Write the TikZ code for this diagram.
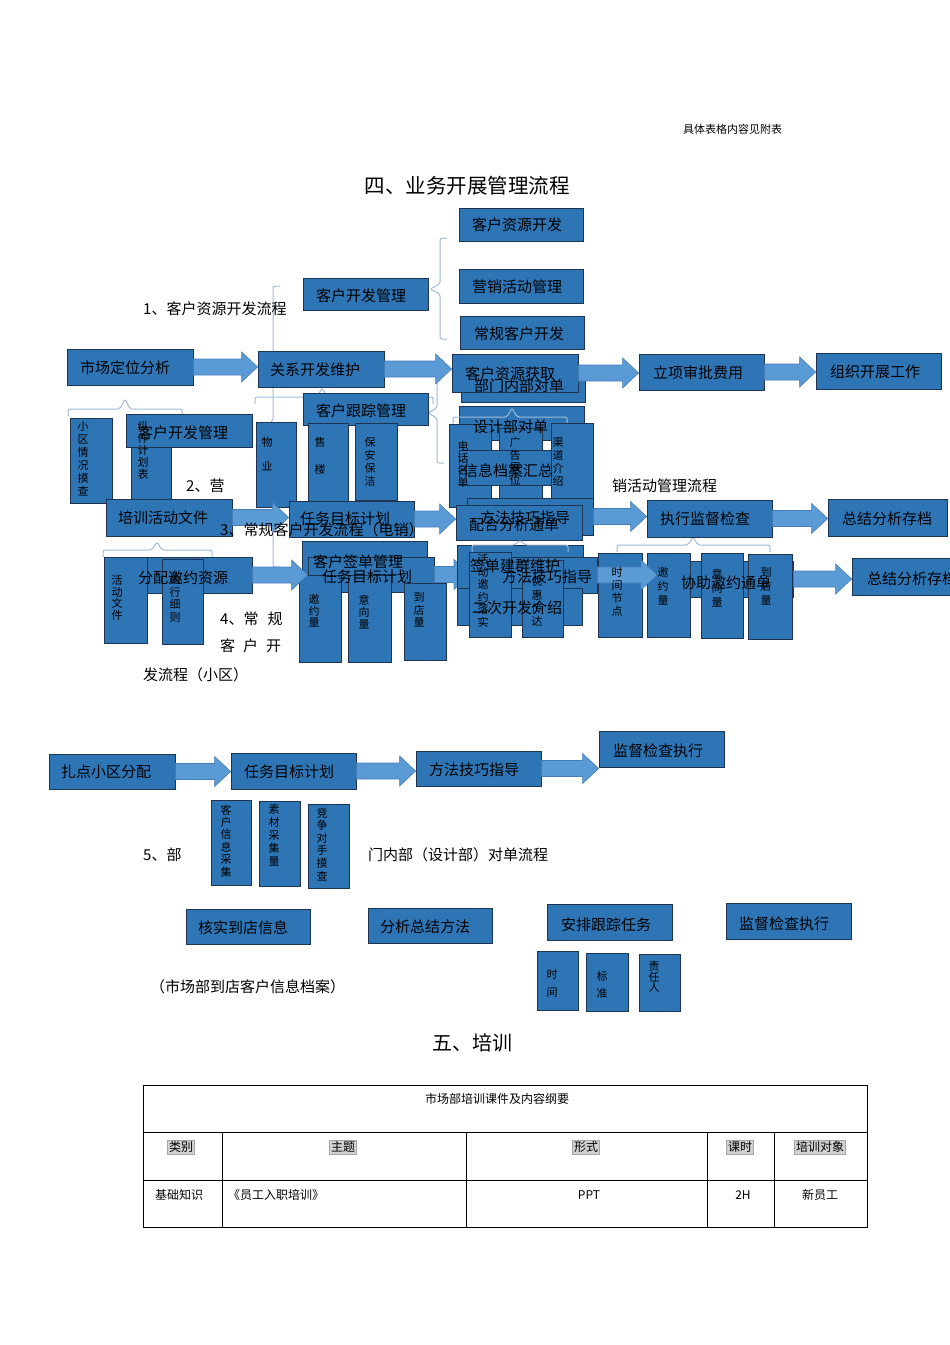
\documentclass[tikz,border=0pt]{standalone}
\usepackage{fontspec}
\setmainfont{Noto Sans CJK SC}
\usetikzlibrary{calc}

\definecolor{boxblue}{RGB}{46,117,182}
\definecolor{boxedge}{RGB}{31,52,82}
\definecolor{arrblue}{RGB}{91,155,213}
\definecolor{arredge}{RGB}{70,125,185}
\definecolor{brkline}{RGB}{160,186,216}

\tikzset{
  blk/.style={draw=boxedge, fill=boxblue, line width=0.8pt, inner sep=0pt},
  lbl/.style={inner sep=0pt, anchor=west, font=\fontsize{15}{18}\selectfont},
  sect/.style={inner sep=0pt, anchor=west, font=\fontsize{15}{18}\selectfont},
  barrow/.style={fill=arrblue, draw=arredge, line width=0.6pt},
  brk/.style={draw=brkline, line width=1pt, rounded corners=2pt},
  tcell/.style={inner sep=0pt, font=\fontsize{12}{14}\selectfont},
  thead/.style={inner sep=1.5pt, fill=black!18, draw=black!35, line width=0.4pt, font=\fontsize{12}{14}\selectfont},
}

% box by corners
\newcommand{\blk}[5]{
\node[blk, minimum width=#4-#2, minimum height=#5-#3] (#1) at ({(#2+#4)/2},{(#3+#5)/2}) {};
}
% text in a box
\newcommand{\txt}[4]{
\node[lbl] (#1) at (#2,#3) {#4};
}
% upright text: name, x, top, line distance, text
\newcommand{\vtxt}[5]{
\node[inner sep=0pt, anchor=north, align=center, font=\fontsize{11}{#4}\selectfont] (#1) at (#2,#3) {#5};
}
% block arrow
\newcommand{\barr}[2]{
\path[barrow] let \p1=(#1), \p2=(#2) in
  (\x1,\y1+8pt) -- (\x2-16pt,\y1+8pt) -- (\x2-16pt,\y1+15pt) -- (\x2,\y1)
  -- (\x2-16pt,\y1-15pt) -- (\x2-16pt,\y1-8pt) -- (\x1,\y1-8pt) -- cycle;
}
% brace under a box: x1, x2, y, tip x, tip y
\newcommand{\hbrk}[5]{
\draw[brk] ({#1},{#3+7}) |- ({#4-5},{#3}) -- ({#4},{#5}) -- ({#4+5},{#3}) -| ({#2},{#3+7});
}
% brace beside a box: y1, y2, x, tip x, tip y
\newcommand{\vbrk}[5]{
\draw[brk] ({#3+7},{#1}) -| ({#3},{#5-5}) -- ({#4},{#5}) -- ({#3},{#5+5}) |- ({#3+7},{#2});
}

\begin{document}
\begin{tikzpicture}[x=1pt, y=-1pt]
\useasboundingbox (0,0) rectangle (950,1345);

\node[inner sep=0pt, anchor=west, font=\fontsize{11}{13}\selectfont] (note) at (683,129) {具体表格内容见附表};
\node[inner sep=0pt, font=\fontsize{20.5}{24}\selectfont] (title4) at (467,186) {四、业务开展管理流程};

\vbrk{238}{339}{440}{430}{289}
\vbrk{286}{567}{273}{265}{426}
\hbrk{255}{433}{397}{322}{388}
\vbrk{360}{463}{437}{428}{413}
\hbrk{68}{182}{409}{125}{399}
\hbrk{617}{770}{545}{693}{537}
\hbrk{103}{212}{550}{157}{542}

\blk{crd}{459}{208}{583}{241}
\blk{yxh}{459}{269}{583}{303}
\blk{cgk}{460}{316}{584}{349}
\blk{kfg}{303}{278}{428}{310}
\blk{mkt}{67}{349}{193}{385}
\blk{rel}{258}{351}{384}{387}
\blk{bmn}{461}{372}{585}{402}
\blk{khz}{452}{354}{578}{392}
\blk{lxs}{639}{354}{764}{390}
\blk{zzk}{816}{353}{941}{389}

\barr{mkt.east}{rel.west}
\barr{rel.east}{khz.west}
\barr{khz.east}{lxs.west}
\barr{lxs.east}{zzk.west}

\blk{sjb}{459}{406}{584}{440}
\hbrk{453}{567}{417}{512}{408}
\blk{khg}{303}{393}{428}{425}
\blk{xqk}{70}{418}{112}{503}
\blk{gzj}{131}{418}{171}{503}
\blk{kfg2}{126}{414}{252}{447}
\blk{wy}{256}{422}{296}{507}
\blk{sl}{308}{423}{348}{509}
\blk{bab}{355}{423}{397}{500}
\blk{dhm}{449}{424}{491}{507}
\blk{ggz}{499}{428}{542}{500}
\blk{xxd}{459}{450}{551}{485}
\blk{qdj}{551}{423}{593}{508}

\blk{pxh}{106}{499}{232}{536}
\blk{rwm}{289}{501}{414}{537}
\blk{ffj}{467}{498}{593}{535}
\blk{phf}{456}{505}{582}{540}
\blk{zxj}{647}{500}{772}{537}
\blk{zjf}{828}{499}{947}{536}
\barr{pxh.east}{rwm.west}
\barr{rwm.east}{phf.west}
\barr{ffj.east}{zxj.west}
\barr{zxj.east}{zjf.west}

\blk{hdw}{104}{557}{147}{643}
\blk{fpy}{147}{557}{252}{593}
\blk{zxx}{162}{559}{203}{644}
\blk{sgn}{302}{541}{427}{592}
\blk{rwm2}{308}{557}{434}{592}
\blk{yyl}{299}{575}{341}{662}
\blk{yxl}{348}{575}{391}{662}
\blk{ddl}{404}{583}{446}{660}
\barr{fpy.east}{rwm2.west}
\coordinate (qdin) at (470,575);
\barr{rwm2.east}{qdin}

\blk{qdj2}{457}{545}{583}{588}
\blk{ffj2}{472}{557}{597}{593}
\blk{ecf}{457}{588}{582}{625}
\blk{yhc}{522}{560}{563}{637}
\blk{hdl}{469}{552}{511}{637}
\hbrk{472}{568}{545}{520}{540}

\blk{xzy}{655}{561}{793}{597}
\blk{sjj}{598}{553}{642}{637}
\blk{yyl2}{647}{553}{690}{637}
\blk{yxl2}{701}{553}{743}{638}
\blk{ddl2}{748}{554}{792}{639}
\blk{zjf2}{852}{558}{955}{595}
\coordinate (yyin) at (657,575);
\barr{ffj2.east}{yyin}
\barr{xzy.east}{zjf2.west}

\txt{t-crd}{472}{225}{客户资源开发}
\txt{t-yxh}{472}{287}{营销活动管理}
\txt{t-cgk}{474}{334}{常规客户开发}
\txt{t-kfg}{316}{296}{客户开发管理}
\txt{t-mkt}{80}{368}{市场定位分析}
\txt{t-rel}{270}{370}{关系开发维护}
\txt{t-khz}{465}{374}{客户资源获取}
\txt{t-bmn}{474}{386}{部门内部对单}
\txt{t-lxs}{653}{373}{立项审批费用}
\txt{t-zzk}{830}{372}{组织开展工作}
\txt{t-khg}{316}{411}{客户跟踪管理}
\txt{t-sjb}{473}{427}{设计部对单}
\txt{t-kfg2}{138}{433}{客户开发管理}
\txt{t-xxd}{463}{471}{信息档案汇总}
\txt{t-pxh}{118}{518}{培训活动文件}
\txt{t-rwm}{300}{519}{任务目标计划}
\txt{t-ffj}{480}{518}{方法技巧指导}
\txt{t-phf}{469}{525}{配合分析通单}
\txt{t-zxj}{660}{519}{执行监督检查}
\txt{t-zjf}{842}{519}{总结分析存档}
\txt{t-fpy}{138}{578}{分配邀约资源}
\txt{t-sgn}{313}{562}{客户签单管理}
\txt{t-rwm2}{322}{577}{任务目标计划}
\txt{t-qdj2}{470}{566}{签单建群维护}
\txt{t-ffj2}{502}{577}{方法技巧指导}
\txt{t-ecf}{472}{608}{二次开发介绍}
\txt{t-xzy}{681}{583}{协助邀约通单}
\txt{t-zjf2}{867}{579}{总结分析存档}

\vtxt{v-xqk}{83}{421.5}{13}{小\\区\\情\\况\\摸\\查}
\vtxt{v-gzj}{143}{421.5}{12}{纵\\作\\计\\划\\表}
\vtxt{v-wy}{267}{437.5}{24}{物\\业}
\vtxt{v-sl}{320}{437.5}{27}{售\\楼}
\vtxt{v-bab}{370}{437.5}{13}{保\\安\\保\\洁}
\vtxt{v-dhm}{463}{441.5}{12}{电\\话\\名\\单}
\vtxt{v-ggz}{515}{437.5}{12.5}{广\\告\\展\\位}
\vtxt{v-qdj}{558}{437.5}{13}{渠\\道\\介\\绍}
\vtxt{v-hdw}{117}{575.5}{11.5}{活\\动\\文\\件}
\vtxt{v-zxx}{175}{574.5}{12.5}{执\\行\\细\\则}
\vtxt{v-yyl}{314}{594.5}{11.5}{邀\\约\\量}
\vtxt{v-yxl}{364}{594.5}{12}{意\\向\\量}
\vtxt{v-ddl}{419}{592.5}{12.5}{到\\店\\量}
\vtxt{v-hdl}{483}{554.5}{12.5}{活\\动\\邀\\约\\落\\实}
\vtxt{v-yhc}{537}{576.5}{13.3}{优\\惠\\传\\达}
\vtxt{v-sjj}{617}{567.5}{13}{时\\间\\节\\点}
\vtxt{v-yyl2}{663}{567.5}{14}{邀\\约\\量}
\vtxt{v-yxl2}{717}{568.5}{14}{意\\向\\量}
\vtxt{v-ddl2}{766}{567.5}{14}{到\\店\\量}

\node[sect] (s1) at (143,309) {1、客户资源开发流程};
\node[sect] (s2a) at (186,486) {2、营};
\node[sect] (s2b) at (612,486) {销活动管理流程};
\node[sect] (s3) at (220,530) {3、常规客户开发流程（电销）};
\node[sect] (s4a) at (220,619) {4、常\hspace{9pt}规};
\node[sect] (s4b) at (220,646) {客\hspace{8pt}户\hspace{8pt}开};
\node[sect] (s4c) at (143,675) {发流程（小区）};

\blk{zdx}{49}{754}{175}{789}
\blk{rwm3}{231}{753}{356}{789}
\blk{ffj3}{416}{751}{541}{786}
\blk{jdz}{599}{731}{724}{767}
\barr{zdx.east}{rwm3.west}
\barr{rwm3.east}{ffj3.west}
\barr{ffj3.east}{jdz.west}
\blk{khx}{211}{800}{251}{885}
\blk{scc}{259}{801}{300}{886}
\blk{jzd}{308}{804}{349}{888}
\blk{hsd}{186}{909}{310}{944}
\blk{fxz}{368}{908}{492}{943}
\blk{apg}{547}{904}{672}{940}
\blk{jdz2}{726}{903}{851}{939}
\blk{sj}{537}{951}{578}{1010}
\blk{bz}{586}{953}{628}{1011}
\blk{zrr}{639}{954}{680}{1011}

\txt{t-zdx}{61}{772}{扎点小区分配}
\txt{t-rwm3}{244}{772}{任务目标计划}
\txt{t-ffj3}{429}{770}{方法技巧指导}
\txt{t-jdz}{613}{751}{监督检查执行}
\txt{t-hsd}{198}{928}{核实到店信息}
\txt{t-fxz}{380}{927}{分析总结方法}
\txt{t-apg}{561}{925}{安排跟踪任务}
\txt{t-jdz2}{739}{924}{监督检查执行}
\vtxt{v-khx}{226}{804.5}{12.4}{客\\户\\信\\息\\采\\集}
\vtxt{v-scc}{274}{804.5}{13}{素\\材\\采\\集\\量}
\vtxt{v-jzd}{322}{807.5}{12.6}{竞\\争\\对\\手\\摸\\查}
\vtxt{v-sj}{552}{969.5}{18}{时\\间}
\vtxt{v-bz}{602}{971.5}{17}{标\\准}
\vtxt{v-zrr}{654}{961.5}{10.5}{责\\任\\人}

\node[sect] (s5a) at (143,855) {5、部};
\node[sect] (s5b) at (368,855) {门内部（设计部）对单流程};
\node[sect] (s5c) at (150,987) {（市场部到店客户信息档案）};

\node[inner sep=0pt, font=\fontsize{20}{24}\selectfont] (title5) at (472,1043) {五、培训};

\draw[line width=0.8pt] (143,1085) rectangle (867,1227);
\draw[line width=0.8pt] (143,1132) -- (867,1132);
\draw[line width=0.8pt] (143,1180) -- (867,1180);
\foreach \cx in {222,466,707,774}
  \draw[line width=0.8pt] (\cx,1132) -- (\cx,1227);
\node[tcell] (cap) at (497,1099) {市场部培训课件及内容纲要};
\node[thead] (h1) at (181,1147) {类别};
\node[thead] (h2) at (343,1147) {主题};
\node[thead] (h3) at (586,1147) {形式};
\node[thead] (h4) at (740,1147) {课时};
\node[thead] (h5) at (820,1147) {培训对象};
\node[tcell] (c1) at (179,1195) {基础知识};
\node[tcell, anchor=west] (c2) at (228,1195) {《员工入职培训》};
\node[tcell] (c3) at (589,1195) {PPT};
\node[tcell] (c4) at (743,1195) {2H};
\node[tcell] (c5) at (820,1195) {新员工};
\end{tikzpicture}
\end{document}
